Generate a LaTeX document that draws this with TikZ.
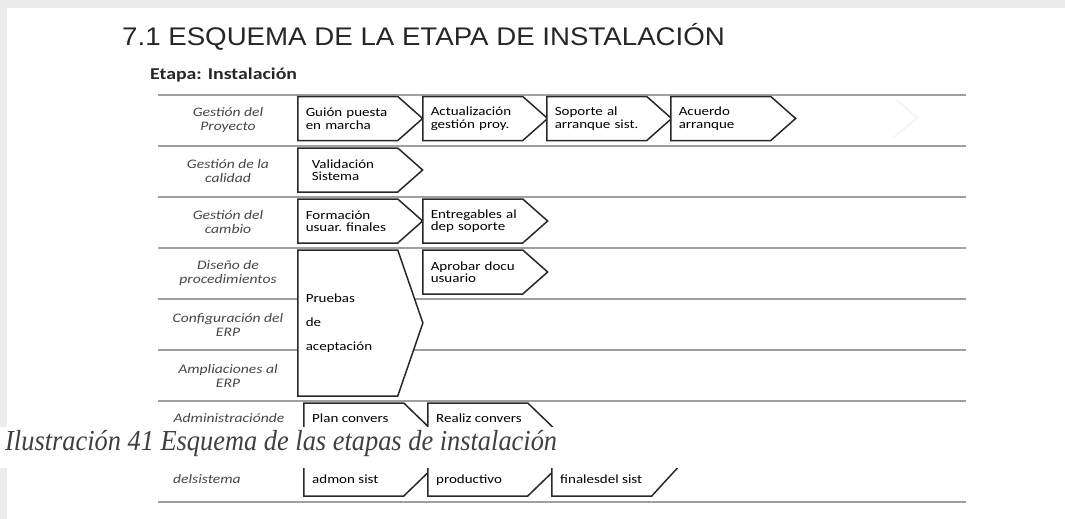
\documentclass[tikz,border=0pt]{standalone}
\usepackage{fontspec}
\usetikzlibrary{shapes.symbols, positioning}
\newfontfamily\titlefont[FakeStretch=1.085]{Liberation Sans}
\newfontfamily\boxfont[FakeStretch=1.2]{Carlito}
\newfontfamily\capfont[FakeStretch=0.91]{Liberation Serif}
\definecolor{laneline}{RGB}{160,160,160}
\definecolor{boxline}{RGB}{40,40,40}
\definecolor{labelgray}{RGB}{70,70,70}
\definecolor{edgegray}{RGB}{236,236,236}

\begin{document}
\begin{tikzpicture}[x=1pt, y=-1pt,
  lane/.style={laneline, line width=1.6pt},
  stepbox/.style={signal, signal to=east, signal from=nowhere, draw=boxline, fill=white,
    line width=1.5pt, minimum height=44pt, text width=84pt, inner xsep=8pt, inner ysep=0pt,
    align=left, anchor=west, signal pointer angle=83,
    font=\boxfont\fontsize{12.5}{12.5}\selectfont},
  lanelabel/.style={labelgray, align=center, inner sep=0pt,
    font=\boxfont\itshape\fontsize{13}{14}\selectfont},
  steptext/.style={anchor=base west, inner sep=0pt, font=\boxfont\fontsize{12.5}{13}\selectfont}]
  \useasboundingbox (0,0) rectangle (1065,519);
  % screenshot edges
  \fill[edgegray] (0,0) rectangle (1065,8);
  \fill[edgegray] (0,8) rectangle (7,519);
  % headings
  \node[anchor=base west, inner sep=0pt, text=black!85, font=\titlefont\fontsize{25.5}{28}\selectfont]
    (titulo) at (122,46) {7.1 ESQUEMA DE LA ETAPA DE INSTALACIÓN};
  \node[anchor=base west, inner sep=0pt, text=black!85, font=\boxfont\bfseries\fontsize{16.5}{18}\selectfont]
    (etapa) at (150,80) {Etapa: Instalación};
  % lanes
  \foreach \y in {95,146,197,248,299,350,401,502}
    \draw[lane] (158,\y) -- (966,\y);
  \draw[black!4, line width=2pt] (897,100) -- (917,118) -- (893,138);
  % lane labels
  \node[lanelabel] (lproyecto) at (228,120.5) {Gestión del\\Proyecto};
  \node[lanelabel] (lcalidad) at (228,171.5) {Gestión de la\\calidad};
  \node[lanelabel] (lcambio) at (228,222.5) {Gestión del\\cambio};
  \node[lanelabel] (lproced) at (228,273.5) {Diseño de\\procedimientos};
  \node[lanelabel] (lconfig) at (228,324.5) {Configuración del\\ERP};
  \node[lanelabel] (lamplia) at (228,375.5) {Ampliaciones al\\ERP};
  \node[lanelabel] (ladmin) at (229,418) {Administraciónde};
  \node[lanelabel, anchor=west] (lsistema) at (173,479) {delsistema};
  % Gestion del proyecto
  \node[stepbox] (guion) at (297,118.5) {Guión puesta\\en marcha};
  \node[stepbox] (actual) at (422,118.5) {Actualización\\gestión proy.};
  \node[stepbox] (soporte) at (546,118.5) {Soporte al\\arranque sist.};
  \node[stepbox] (acuerdo) at (670,118.5) {Acuerdo\\arranque};
  % calidad
  \node[stepbox] (valida) at (297,170) {\hspace*{6pt}Validación\\\hspace*{6pt}Sistema};
  % cambio
  \node[stepbox] (formacion) at (297,221) {Formación\\usuar.~finales};
  \node[stepbox] (entrega) at (422,221) {Entregables~al\\dep soporte};
  % procedimientos
  \node[stepbox] (aprobar) at (422,272) {Aprobar docu\\usuario};
  \node[stepbox, minimum height=146pt, signal pointer angle=142,
    font=\boxfont\fontsize{12.5}{24}\selectfont] (pruebas) at (297,323) {Pruebas\\de\\aceptación};
  % administracion del sistema
  \node[stepbox, minimum height=93pt, signal pointer angle=88] (plan) at (303,449.5) {};
  \node[stepbox, minimum height=93pt, signal pointer angle=88] (realiz) at (427,449.5) {};
  \node[stepbox, minimum height=66pt, signal pointer angle=95] (finales) at (551,463) {};
  \node[steptext] (tplan) at ([xshift=9pt]plan.west |- 0,422) {Plan convers};
  \node[steptext] (trealiz) at ([xshift=9pt]realiz.west |- 0,422) {Realiz convers};
  \node[steptext] (tadmon) at ([xshift=9pt]plan.west |- 0,483) {admon sist};
  \node[steptext] (tproduct) at ([xshift=9pt]realiz.west |- 0,483) {productivo};
  \node[steptext] (tfinales) at ([xshift=9pt]finales.west |- 0,483) {finalesdel sist};
  % caption over the figure
  \fill[white] (0,427) rectangle (1065,468);
  \node[anchor=base west, inner sep=0pt, text=black!75, font=\capfont\itshape\fontsize{29}{32}\selectfont]
    (caption) at (5,450) {Ilustración 41 Esquema de las etapas de instalación};
\end{tikzpicture}
\end{document}
